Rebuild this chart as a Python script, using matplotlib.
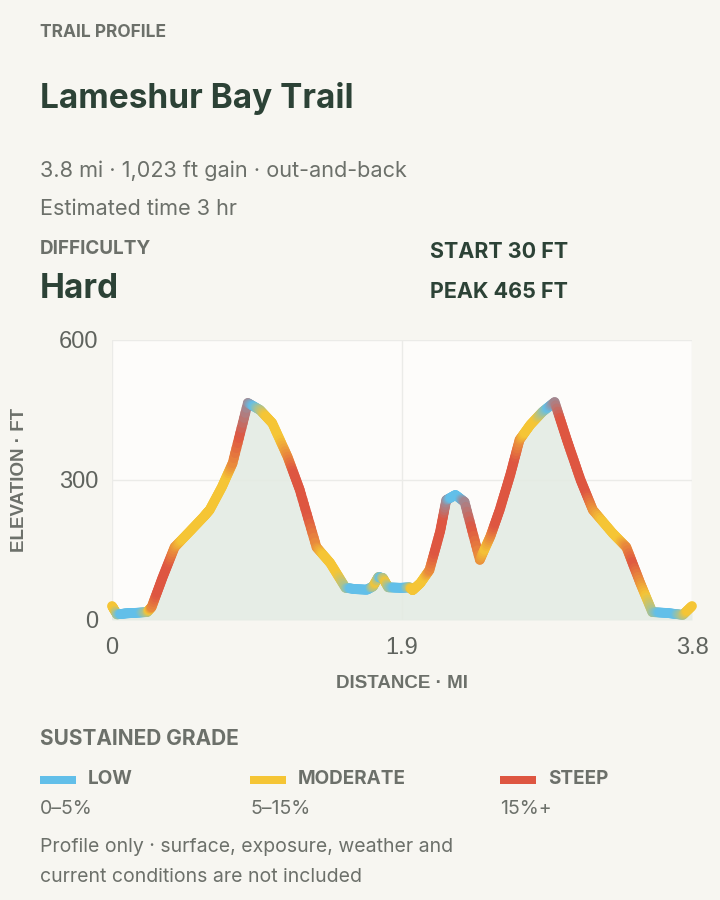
import numpy as np
import matplotlib
matplotlib.use("Agg")
import matplotlib.pyplot as plt
from matplotlib.collections import LineCollection
from matplotlib.colors import to_rgb

# ---- data ----
distance_mi = [0.00, 0.033, 0.085, 0.138, 0.23, 0.26, 0.33, 0.41, 0.51, 0.60, 0.64, 0.72, 0.79, 0.89,
               0.97, 1.05, 1.15, 1.23, 1.34, 1.43, 1.53, 1.60, 1.67, 1.71, 1.745, 1.775, 1.81, 1.89,
               1.95, 1.97, 2.02, 2.08, 2.15, 2.19, 2.25, 2.31, 2.41, 2.48, 2.54, 2.61, 2.67, 2.74,
               2.82, 2.90, 2.98, 3.07, 3.15, 3.28, 3.37, 3.46, 3.54, 3.64, 3.74, 3.80]
elevation_ft = [30, 12, 14, 15, 17, 28, 90, 156, 190, 221, 236, 285, 336, 465,
                450, 422, 350, 279, 156, 122, 69, 66, 65, 72, 92, 90, 70, 69,
                70, 64, 79, 107, 190, 257, 268, 253, 129, 180, 236, 312, 386, 418,
                446, 467, 386, 300, 236, 186, 156, 80, 17, 15, 11, 30]
x_ticks = [0, 1.9, 3.8]
x_tick_labels = ["0", "1.9", "3.8"]
y_ticks = [0, 300, 600]
grade_names = ["LOW", "MODERATE", "STEEP"]
grade_ranges = ["0–5%", "5–15%", "15%+"]
grade_limits = [5, 15]
grade_colors = ["#62bfe9", "#f5c535", "#de5641"]

BG = "#f7f6f1"
PLOT_BG = "#fdfcfa"
DARK = "#2c4236"
GRAY = "#6c706a"

fig = plt.figure(figsize=(7.2, 9), dpi=100, facecolor=BG)

H = "Inter"
def T(x, y, s, size, color, weight="normal", family=H, **kw):
    fig.text(x / 720, 1 - y / 900, s, fontsize=size, color=color, fontweight=weight,
             family=family, va="baseline", ha="left", **kw)

T(40, 37, "TRAIL PROFILE", 12.5, GRAY, "bold")
T(40, 108, "Lameshur Bay Trail", 24, DARK, "bold")
T(40, 177, "3.8 mi · 1,023 ft gain · out-and-back", 15.6, GRAY)
T(40, 215, "Estimated time 3 hr", 15.6, GRAY)
T(40, 254, "DIFFICULTY", 13.6, GRAY, "bold")
T(40, 298, "Hard", 24, DARK, "bold")
T(430, 258, "START 30 FT", 15.5, DARK, "bold")
T(430, 298, "PEAK 465 FT", 15.5, DARK, "bold")

# ---- chart ----
ax = fig.add_axes([112 / 720, 1 - 620 / 900, 580 / 720, 280 / 900])
ax.set_facecolor(PLOT_BG)
ax.set_xlim(0, 3.8)
ax.set_ylim(0, 600)
for s in ax.spines.values():
    s.set_visible(False)
ax.set_xticks(x_ticks)
ax.set_xticklabels(x_tick_labels)
ax.set_yticks(y_ticks)
ax.tick_params(length=0, labelsize=17, labelcolor="#5f635e")
ax.tick_params(axis="y", pad=10)
ax.tick_params(axis="x", pad=12)
for lab in ax.get_xticklabels() + ax.get_yticklabels():
    lab.set_family("Liberation Sans")
ax.grid(True, color="#ebebe8", lw=1)
ax.set_axisbelow(True)
ax.set_xlabel("DISTANCE · MI", fontsize=13.5, fontweight="bold", color=GRAY,
              family="Liberation Sans", labelpad=12)
ax.set_ylabel("ELEVATION · FT", fontsize=13.5, fontweight="bold", color=GRAY,
              family="Liberation Sans", labelpad=22)

d = np.array(distance_mi)
e = np.array(elevation_ft)
ax.fill_between(d, e, 0, color="#e3ebe3", alpha=0.85, lw=0, zorder=2)

# segment colors by grade
grade = np.abs(np.diff(e)) / (np.diff(d) * 5280) * 100
cols = np.array([to_rgb(grade_colors[0 if g < grade_limits[0] else (1 if g < grade_limits[1] else 2)])
                 for g in grade])
n = len(cols)
vert_cols = np.zeros((n + 1, 3))
vert_cols[0] = cols[0]
vert_cols[-1] = cols[-1]
for i in range(1, n):
    vert_cols[i] = (cols[i - 1] + cols[i]) / 2

segs, segcols = [], []
K = 12
for i in range(n):
    for k in range(K):
        t0, t1 = k / K, (k + 1) / K
        p0 = (d[i] + (d[i + 1] - d[i]) * t0, e[i] + (e[i + 1] - e[i]) * t0)
        p1 = (d[i] + (d[i + 1] - d[i]) * t1, e[i] + (e[i + 1] - e[i]) * t1)
        tm = (t0 + t1) / 2
        if tm < 0.5:
            c = vert_cols[i] + (cols[i] - vert_cols[i]) * (tm / 0.5)
        else:
            c = cols[i] + (vert_cols[i + 1] - cols[i]) * ((tm - 0.5) / 0.5)
        segs.append([p0, p1])
        segcols.append(c)
lc = LineCollection(segs, colors=segcols, linewidths=7, capstyle="round", joinstyle="round", zorder=3)
lc.set_clip_on(False)
ax.add_collection(lc)

# ---- legend ----
T(40, 745, "SUSTAINED GRADE", 15, GRAY, "bold")
xs = [40, 250, 500]
for x0, name, rng, c in zip(xs, grade_names, grade_ranges, grade_colors):
    fig.patches.append(plt.Rectangle((x0 / 720, 1 - 784 / 900), 36 / 720, 8 / 900,
                                     transform=fig.transFigure, color=c, lw=0))
    T(x0 + 48, 784, name, 13.6, GRAY, "bold")
    T(x0, 814, rng, 14, GRAY)

T(40, 852, "Profile only · surface, exposure, weather and", 14, GRAY)
T(40, 882, "current conditions are not included", 14, GRAY)

fig.savefig("out.png", dpi=100, facecolor=BG)
